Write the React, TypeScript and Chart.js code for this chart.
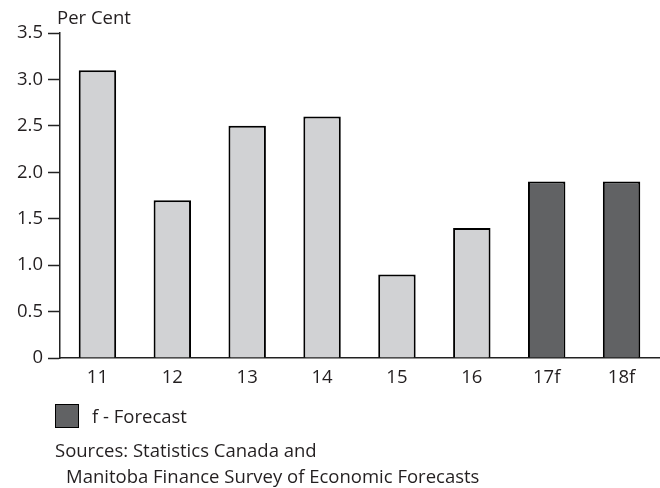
import React, { useEffect, useRef } from "react";
import { Chart, registerables } from "chart.js";

Chart.register(...registerables);

const categories = ["11", "12", "13", "14", "15", "16", "17f", "18f"];
const values = [3.1, 1.7, 2.5, 2.6, 0.9, 1.4, 1.9, 1.9];
const isForecast = [false, false, false, false, false, false, true, true];
const yTicks = [0, 0.5, 1.0, 1.5, 2.0, 2.5, 3.0, 3.5];

const LIGHT = "#d1d2d4";
const DARK = "#616264";
const TEXT = "#231f20";
const FONT = "'Open Sans', sans-serif";
const FS = 18.5;

const textPlugin = {
  id: "texts",
  afterDraw(chart: any) {
    const ctx = chart.ctx;
    ctx.save();
    ctx.fillStyle = TEXT;
    ctx.font = `${FS}px ${FONT}`;
    ctx.textAlign = "left";
    ctx.textBaseline = "alphabetic";
    ctx.fillText("Per Cent", 57, 24);
    // legend
    ctx.fillStyle = DARK;
    ctx.fillRect(55, 404, 24, 24);
    ctx.strokeStyle = "#000";
    ctx.lineWidth = 1;
    ctx.strokeRect(55.5, 404.5, 23, 23);
    ctx.fillStyle = TEXT;
    ctx.fillText("f - Forecast", 92, 423);
    ctx.fillText("Sources: Statistics Canada and", 55, 457);
    ctx.fillText("Manitoba Finance Survey of Economic Forecasts", 66, 483);
    ctx.restore();
  },
};

export default function App() {
  const ref = useRef<HTMLCanvasElement>(null);
  useEffect(() => {
    if (!ref.current) return;
    const chart = new Chart(ref.current, {
      type: "bar",
      data: {
        labels: categories,
        datasets: [
          {
            data: values,
            backgroundColor: isForecast.map((f) => (f ? DARK : LIGHT)),
            borderColor: "#000",
            borderWidth: 2,
            barPercentage: 0.5,
            categoryPercentage: 1,
          },
        ],
      },
      options: {
        animation: false,
        responsive: false,
        layout: { padding: { top: 33, right: 1, left: 0, bottom: 0 } },
        plugins: { legend: { display: false }, tooltip: { enabled: false } },
        scales: {
          x: {
            grid: { display: false, drawTicks: false },
            border: { color: "#222", width: 1.5 },
            ticks: { color: TEXT, font: { family: FONT, size: FS }, padding: 9 },
            afterFit(scale: any) {
              scale.height = 130;
            },
          },
          y: {
            min: 0,
            max: 3.5,
            afterBuildTicks(scale: any) {
              scale.ticks = yTicks.map((v) => ({ value: v }));
            },
            grid: {
              drawOnChartArea: false,
              drawTicks: true,
              tickLength: 12,
              tickColor: "#222",
              tickWidth: 1.5,
            },
            border: { color: "#222", width: 1.5 },
            ticks: {
              color: TEXT,
              font: { family: FONT, size: FS },
              padding: 5,
              callback: (v: any) => (Number(v) === 0 ? "0" : Number(v).toFixed(1)),
            },
            afterFit(scale: any) {
              scale.width = 60;
            },
          },
        },
      },
      plugins: [textPlugin],
    });
    return () => chart.destroy();
  }, []);
  return (
    <div style={{ position: "absolute", left: 0, top: 0, width: 660, height: 488, background: "#fff" }}>
      <canvas ref={ref} width={660} height={488} />
    </div>
  );
}
